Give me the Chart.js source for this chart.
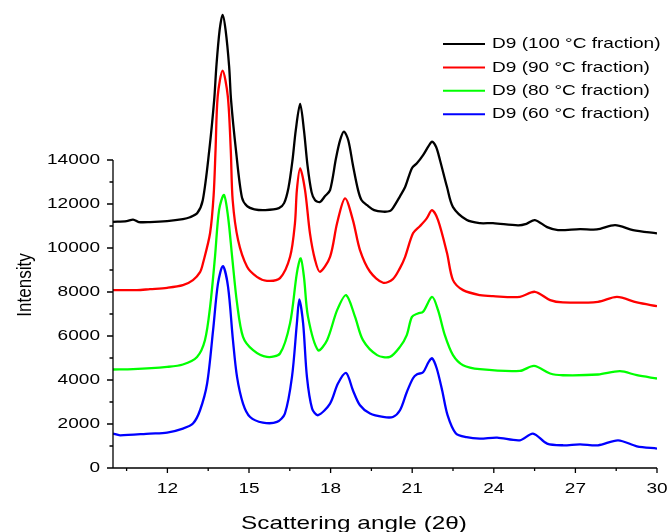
<!DOCTYPE html>
<html><head><meta charset="utf-8">
<script src="https://cdn.jsdelivr.net/npm/chart.js@4"></script>
<style>html,body{margin:0;padding:0;background:#fff}canvas{display:block}</style>
</head><body>
<canvas id="c" width="668" height="532"></canvas>
<script>
// ---- data ----
const seriesLabels = ['D9 (100 °C fraction)', 'D9 (90 °C fraction)', 'D9 (80 °C fraction)', 'D9 (60 °C fraction)'];
const seriesColors = ['#000000', '#ff0000', '#00ff00', '#0000ff'];

const x100 = [10.0,10.5,10.74,10.95,11.36,11.99,12.57,12.83,13.1,13.30,13.54,13.72,13.80,13.92,14.03,14.14,14.27,14.34,14.52,14.74,14.93,15.2,15.6,16.1,16.29,16.45,16.6,16.72,16.88,17.02,17.15,17.3,17.43,17.61,17.79,17.98,18.2,18.35,18.49,18.65,18.82,19.01,19.14,19.34,19.6,19.93,20.18,20.29,20.55,20.74,20.99,21.18,21.4,21.6,21.73,21.88,22.02,22.28,22.5,23.01,23.49,23.97,24.89,25.2,25.51,25.96,26.36,27.17,27.79,28.46,29.12,30.0];
const y100 = [11190,11220,11290,11180,11180,11225,11315,11400,11590,12170,14450,16730,18245,19900,20600,19900,18245,16730,14450,12300,11900,11760,11725,11815,12040,12730,14000,15360,16550,15360,13765,12540,12170,12090,12350,12630,14090,14900,15290,14900,13770,12630,12170,11945,11720,11650,11680,11815,12350,12770,13630,13860,14220,14630,14830,14590,14000,12770,11860,11270,11130,11130,11030,11100,11270,10950,10815,10860,10845,11040,10815,10665];

const x90 = [10.0,10.88,11.36,11.99,12.57,12.94,13.2,13.31,13.57,13.70,13.77,13.85,14.03,14.22,14.33,14.40,14.6,14.93,15.29,15.66,16.14,16.51,16.69,16.76,16.88,17.06,17.24,17.43,17.61,17.98,18.24,18.53,18.82,19.08,19.45,19.93,20.29,20.55,20.74,21.03,21.29,21.54,21.73,21.95,22.28,22.5,22.87,23.49,23.97,24.96,25.51,26.07,26.54,27.83,28.53,29.26,30.0];
const y90 = [8085,8085,8130,8190,8310,8540,8900,9315,10680,12400,14450,16900,18065,16900,14450,12170,10350,9145,8690,8510,8630,9600,11135,12630,13620,12630,10680,9450,8920,9600,11135,12260,11270,9905,8920,8420,8585,9085,9600,10665,11000,11360,11725,11270,9770,8540,8085,7860,7810,7780,8010,7630,7525,7555,7780,7525,7357];

const x80 = [10.0,10.74,11.99,12.57,13.09,13.38,13.57,13.75,13.9,14.08,14.23,14.38,14.56,14.78,15.15,15.66,16.14,16.51,16.76,16.9,17.02,17.17,17.54,17.87,18.24,18.57,18.9,19.19,19.71,20.18,20.55,20.8,20.99,21.21,21.4,21.73,21.95,22.2,22.5,22.87,23.49,24.96,25.48,26.07,26.54,27.83,28.64,29.26,30.0];
const y80 = [4477,4490,4595,4705,5050,5810,7325,9600,11725,12410,11420,9600,7495,5960,5355,5050,5205,6585,8860,9530,8690,6870,5355,5810,7175,7860,6870,5810,5130,5050,5505,6040,6870,7025,7100,7780,7175,6040,5130,4670,4490,4413,4640,4295,4217,4250,4400,4217,4067];

const x60 = [10.0,10.26,11.36,11.99,12.57,12.94,13.2,13.46,13.68,13.86,14.04,14.23,14.41,14.56,14.78,15.04,15.51,16.03,16.32,16.58,16.76,16.85,16.99,17.13,17.32,17.54,17.98,18.27,18.57,18.82,19.08,19.45,19.93,20.29,20.55,20.8,21.03,21.18,21.4,21.6,21.73,21.9,22.1,22.3,22.6,23.0,23.49,24.12,24.96,25.44,25.96,26.54,27.17,27.83,28.57,29.26,30.0];
const y60 = [1565,1487,1565,1610,1793,2020,2625,3840,6265,8390,9177,8235,5810,4140,2930,2320,2065,2095,2475,4140,6570,7662,6570,4140,2700,2400,2930,3840,4320,3535,2853,2475,2320,2320,2625,3445,4080,4260,4350,4810,4990,4535,3535,2400,1580,1400,1337,1383,1260,1565,1110,1033,1078,1033,1260,987,883];

const yMajorTicks = [0,2000,4000,6000,8000,10000,12000,14000];
const yMinorTicks = [1000,3000,5000,7000,9000,11000,13000];
const xMajorTicks = [12,15,18,21,24,27,30];
const xMinorTicks = [10.5,13.5,16.5,19.5,22.5,25.5,28.5];
const xTitle = 'Scattering angle (2θ)';
const yTitle = 'Intensity';

// ---- build ----
const xs = [x100, x90, x80, x60];
const ys = [y100, y90, y80, y60];
const datasets = seriesLabels.map((lab, i) => ({
  label: lab,
  data: xs[i].map((v, k) => ({x: v, y: ys[i][k]})),
  borderColor: seriesColors[i],
  backgroundColor: seriesColors[i],
  borderWidth: 2.3,
  pointRadius: 0,
  tension: 0.3,
  fill: false
}));

const FONT = '"Liberation Sans", Arial, sans-serif';
const SX = 1.27;
function sText(ctx, str, x, y, align, base, size, sx) {
  ctx.save();
  ctx.translate(x, y);
  ctx.scale(sx, 1);
  ctx.font = size + 'px ' + FONT;
  ctx.textAlign = align;
  ctx.textBaseline = base;
  ctx.fillStyle = '#000';
  ctx.fillText(str, 0, 0);
  ctx.restore();
}

const axesPlugin = {
  id: 'axesPlugin',
  afterDraw(chart) {
    const ctx = chart.ctx;
    const xs_ = chart.scales.x, ys_ = chart.scales.y;
    const left = xs_.getPixelForValue(xs_.min);
    const right = xs_.getPixelForValue(xs_.max);
    const base = ys_.getPixelForValue(0);
    const topAxis = ys_.getPixelForValue(yMajorTicks[yMajorTicks.length - 1]);
    ctx.save();
    ctx.strokeStyle = '#000';
    ctx.lineWidth = 1.3;
    ctx.beginPath();
    ctx.moveTo(left, topAxis); ctx.lineTo(left, base); ctx.lineTo(right, base);
    yMajorTicks.forEach(v => { const p = ys_.getPixelForValue(v); ctx.moveTo(left - 6, p); ctx.lineTo(left, p); });
    yMinorTicks.forEach(v => { const p = ys_.getPixelForValue(v); ctx.moveTo(left - 3.5, p); ctx.lineTo(left, p); });
    xMajorTicks.forEach(v => { const p = xs_.getPixelForValue(v); ctx.moveTo(p, base); ctx.lineTo(p, base + 5); });
    xMinorTicks.forEach(v => { const p = xs_.getPixelForValue(v); ctx.moveTo(p, base); ctx.lineTo(p, base + 3); });
    ctx.stroke();
    ctx.restore();
    yMajorTicks.forEach(v => sText(ctx, String(v), left - 13, ys_.getPixelForValue(v), 'right', 'middle', 15, SX));
    xMajorTicks.forEach(v => sText(ctx, String(v), xs_.getPixelForValue(v), base + 21, 'center', 'middle', 15, SX));
    sText(ctx, xTitle, 354, 529, 'center', 'alphabetic', 19, 1.28);
    ctx.save();
    ctx.translate(25, 285);
    ctx.scale(1.2, 1);
    ctx.rotate(-Math.PI / 2);
    ctx.font = '17px ' + FONT;
    ctx.textAlign = 'center';
    ctx.textBaseline = 'middle';
    ctx.fillStyle = '#000';
    ctx.fillText(yTitle, 0, 0);
    ctx.restore();
    chart.data.datasets.forEach((ds, i) => {
      const ly = 44 + i * 23.4;
      ctx.save();
      ctx.strokeStyle = ds.borderColor;
      ctx.lineWidth = 2;
      ctx.beginPath();
      ctx.moveTo(443, ly); ctx.lineTo(485, ly);
      ctx.stroke();
      ctx.restore();
      sText(ctx, ds.label, 492, ly, 'left', 'middle', 15, SX);
    });
  }
};

new Chart(document.getElementById('c'), {
  type: 'line',
  data: { datasets: datasets },
  options: {
    responsive: false,
    devicePixelRatio: 1,
    animation: false,
    layout: { padding: { left: 113, right: 11, top: 6, bottom: 64 } },
    plugins: { legend: { display: false }, tooltip: { enabled: false } },
    scales: {
      x: { type: 'linear', min: 10, max: 30, display: false },
      y: { type: 'linear', min: 0, max: 21000, display: false }
    }
  },
  plugins: [axesPlugin]
});
</script>
</body></html>
